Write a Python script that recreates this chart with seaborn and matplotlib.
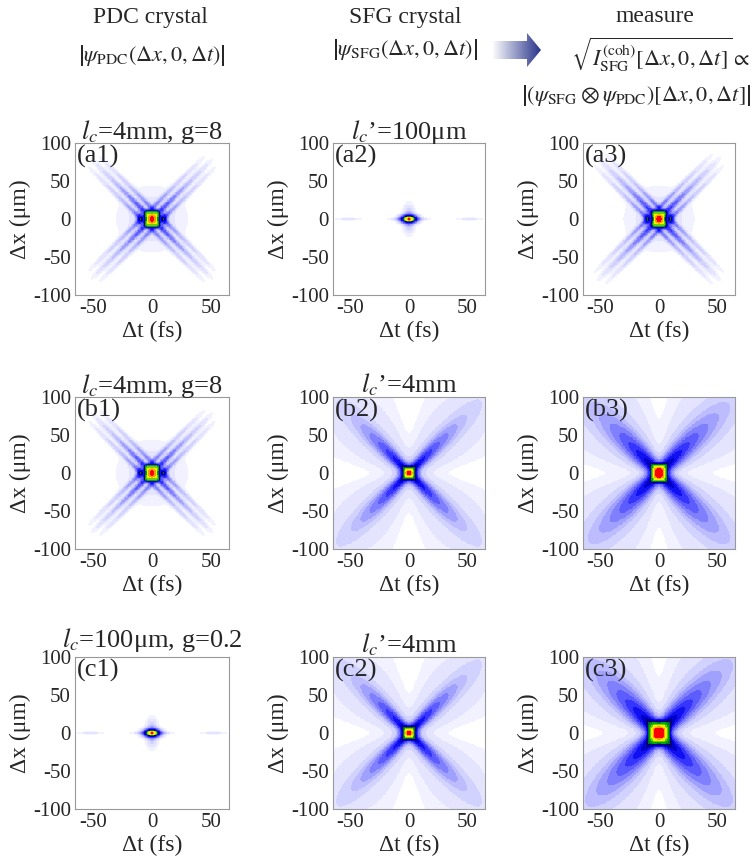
import numpy as np
import matplotlib
matplotlib.use("Agg")
import matplotlib.pyplot as plt
import seaborn as sns
from matplotlib.colors import ListedColormap, LinearSegmentedColormap
from matplotlib.patches import Polygon

# sampling grid (cell centres): delay in fs, transverse offset in um (top row = +100)
t_fs = np.arange(-65, 65, 0.5) + 0.25
x_um = np.arange(100, -100, -1.0) - 0.5
ARM_SLOPE = 1.54  # um per fs, direction of the X arms

panel_ids = ["a1", "a2", "a3", "b1", "b2", "b3", "c1", "c2", "c3"]
titles = [
    "$l_c$=4mm, g=8", "$l_c$\u2019=100\u03bcm", "",
    "$l_c$=4mm, g=8", "$l_c$\u2019=4mm", "",
    "$l_c$=100\u03bcm, g=0.2", "$l_c$\u2019=4mm", "",
]

# per-panel shape parameters (a1 a2 a3 b1 b2 b3 c1 c2 c3)
core_t = [8, 6, 8, 8, 5, 8, 6, 5, 9]
core_x = [15, 4.5, 15, 15, 7.5, 15, 4.5, 7.5, 15]
core_edge_t = [6.5, 99, 6.5, 6.5, 99, 7, 99, 99, 11]
core_edge_x = [12, 99, 12, 12, 99, 13, 99, 99, 20]
arm_amp = [0.34, 0, 0.36, 0.34, 0.45, 0.5, 0, 0.45, 0.55]
arm_len = [48, 1, 50, 48, 55, 62, 1, 55, 62]
arm_pow = [1, 1, 1, 1, 1.2, 1.2, 1, 1.2, 1.2]
arm_cut = [105, 1, 107, 105, 999, 999, 1, 999, 999]
arm_w0 = [3.5, 1, 4, 3.5, 4, 6, 1, 4, 7]
arm_spread = [0, 0, 0, 0, 0.1, 0.12, 0, 0.1, 0.12]
fringe_amp = [0.6, 0, 0.6, 0.6, 0, 0, 0, 0, 0]
fringe_gap = [10, 1, 10.5, 10, 1, 1, 1, 1, 1]
wide_amp = [0, 0, 0, 0, 0.06, 0.075, 0, 0.06, 0.08]
wide_len = [1, 1, 1, 1, 100, 120, 1, 100, 120]
wide_w0 = [1, 1, 1, 1, 6, 4, 1, 6, 4]
wide_spread = [0, 0, 0, 0, 0.45, 0.5, 0, 0.45, 0.5]
lobe_amp = [0.25, 0, 0.25, 0.25, 0, 0, 0, 0, 0]
lobe_t = [10, 1, 10, 10, 1, 1, 1, 1, 1]
halo_amp = [0.04, 0.12, 0.04, 0.04, 0, 0, 0.12, 0, 0]
halo_t = [22, 4, 22, 22, 1, 1, 4, 1, 1]
halo_x = [32, 14, 32, 32, 1, 1, 14, 1, 1]
line_amp = [0, 0.15, 0, 0, 0, 0, 0.15, 0, 0]

xtick_vals = [-50, 0, 50]
ytick_vals = [100, 50, 0, -50, -100]

levels = [0.006, 0.018, 0.04, 0.07, 0.1, 0.14, 0.19, 0.25, 0.32, 0.4,
          0.47, 0.55, 0.63, 0.72, 0.8, 0.9, 0.96]
level_colors = ["#ffffff", "#f1f1ff", "#e4e4ff", "#d2d2ff", "#bcbcff", "#a0a0ff",
                "#8080ff", "#5c5cff", "#3535ff", "#1010f0", "#0000c8", "#00007a",
                "#006a30", "#00a800", "#70d000", "#f0f000", "#ffa000", "#ff0000"]


def field(i):
    T, X = np.meshgrid(t_fs, x_um)
    U = ARM_SLOPE * T
    r = np.hypot(U, X)
    d1 = np.abs(X - U) / np.sqrt(2)
    d2 = np.abs(X + U) / np.sqrt(2)
    E = ((T / core_t[i]) ** 2 + (X / core_x[i]) ** 2
         + (T / core_edge_t[i]) ** 8 + (X / core_edge_x[i]) ** 8)
    core = np.exp(-E)

    w = arm_w0[i] + arm_spread[i] * r

    def ridge(d):
        return (np.exp(-(d / w) ** 2)
                + fringe_amp[i] * np.exp(-((d - fringe_gap[i]) / 3) ** 2))

    env = (arm_amp[i] * np.exp(-(r / arm_len[i]) ** arm_pow[i])
           * np.exp(-(r / arm_cut[i]) ** 8))
    arms = env * (ridge(d1) + ridge(d2))
    ww = wide_w0[i] + wide_spread[i] * r
    wide = wide_amp[i] * np.exp(-r / wide_len[i]) * (
        np.exp(-(d1 / ww) ** 4) + np.exp(-(d2 / ww) ** 4))
    lobes = lobe_amp[i] * np.exp(-((np.abs(T) - lobe_t[i]) / 3) ** 2 - (X / 8) ** 2)
    halo = halo_amp[i] * np.exp(-(T / halo_t[i]) ** 2 - (X / halo_x[i]) ** 2)
    line = line_amp[i] * np.exp(-(X / 1.2) ** 2) * (
        np.exp(-(T / 11) ** 2) + 0.25 * np.exp(-((np.abs(T) - 52) / 9) ** 2))
    rest = np.clip(arms + wide + lobes + halo + line, 0, 1)
    return core + (1 - core) * rest


sns.set_theme(style="white")
plt.rcParams["font.family"] = ["Liberation Serif", "DejaVu Serif"]
plt.rcParams["mathtext.fontset"] = "stix"

W, H = 754, 866
fig = plt.figure(figsize=(W / 100, H / 100), dpi=100)

col_px = [(75, 229), (333, 485), (583, 735)]
row_px = [(143, 295), (397, 549), (657, 809)]
title_pad = [3, 3, 3, 3, 3, 3, 7, 3, 3]
cmap = ListedColormap(level_colors)

for i, pid in enumerate(panel_ids):
    r_i, c_i = divmod(i, 3)
    (l, rgt), (top, bot) = col_px[c_i], row_px[r_i]
    ax = fig.add_axes([l / W, 1 - bot / H, (rgt - l) / W, (bot - top) / H])
    z = field(i)
    idx = np.digitize(z, levels)
    sns.heatmap(idx, ax=ax, cmap=cmap, vmin=-0.5, vmax=len(level_colors) - 0.5,
                cbar=False, xticklabels=False, yticklabels=False, rasterized=True)
    ax.set_xticks([(v + 65) / 0.5 for v in xtick_vals])
    ax.set_xticklabels([str(v) for v in xtick_vals], fontsize=15)
    ax.set_yticks([(100 - v) / 1.0 for v in ytick_vals])
    ax.set_yticklabels([str(v) for v in ytick_vals], fontsize=15, rotation=0)
    ax.tick_params(length=2, width=0.5, color="#999999", pad=1)
    for sp in ax.spines.values():
        sp.set_visible(True)
        sp.set_color("#999999")
        sp.set_linewidth(0.8)
    ax.set_xlabel("\u0394t (fs)", fontsize=17, labelpad=2)
    ax.set_ylabel("\u0394x (\u03bcm)", fontsize=17, labelpad=1)
    ax.text(0.01, 0.985, f"({pid})", transform=ax.transAxes, fontsize=19,
            ha="left", va="top")
    if titles[i]:
        ax.set_title(titles[i], fontsize=19, pad=title_pad[i])

# header texts and arrow drawn on a full-figure overlay in pixel units
ov = fig.add_axes([0, 0, 1, 1])
ov.set_xlim(0, W)
ov.set_ylim(H, 0)
ov.axis("off")
ov.text(150, 18, "PDC crystal", fontsize=17, ha="center", va="center")
ov.text(152, 55, r"$\left|\psi_{\rm PDC}(\Delta x,0,\Delta t)\right|$",
        fontsize=16, ha="center", va="center")
ov.text(405, 18, "SFG crystal", fontsize=17, ha="center", va="center")
ov.text(405, 50, r"$\left|\psi_{\rm SFG}(\Delta x,0,\Delta t)\right|$",
        fontsize=16, ha="center", va="center")
ov.text(655, 17, "measure", fontsize=17, ha="center", va="center")
ov.text(660, 55, r"$\sqrt{I^{\rm (coh)}_{\rm SFG}[\Delta x,0,\Delta t]}\propto$",
        fontsize=16, ha="center", va="center")
ov.text(636, 95, r"$\left|(\psi_{\rm SFG}\otimes\psi_{\rm PDC})[\Delta x,0,\Delta t]\right|$",
        fontsize=16, ha="center", va="center")

arrow = Polygon([(492, 41), (527, 41), (527, 33), (541, 50), (527, 67),
                 (527, 59), (492, 59)], closed=True, facecolor="none",
                edgecolor="none")
ov.add_patch(arrow)
grad = LinearSegmentedColormap.from_list("arr", ["#ffffff", "#28338a"])
img = ov.imshow(np.linspace(0, 1, 100)[None, :], cmap=grad, aspect="auto",
                extent=(492, 541, 68, 32))
img.set_clip_path(arrow)
ov.set_xlim(0, W)
ov.set_ylim(H, 0)

fig.savefig("out.png", dpi=100)
